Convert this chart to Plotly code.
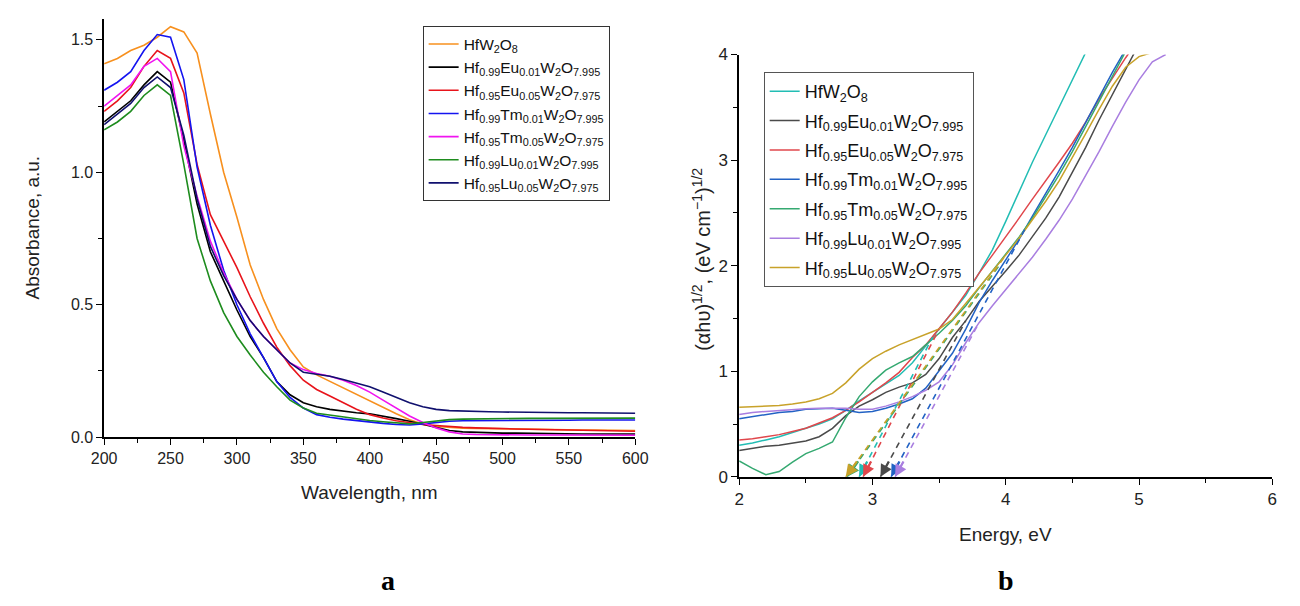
import plotly.graph_objects as go

# ---------------- Panel a: absorbance spectra ----------------
wavelength = [200, 210, 220, 230, 240, 250, 260, 270, 280, 290,
              300, 310, 320, 330, 340, 350, 360, 370, 380, 390,
              400, 410, 420, 430, 440, 450, 460, 470, 480, 490,
              500, 510, 520, 530, 540, 550, 560, 570, 580, 590, 600]

abs_HfW2O8 = [1.41, 1.43, 1.46, 1.48, 1.51, 1.55, 1.53, 1.45, 1.22, 1.00,
              0.83, 0.65, 0.52, 0.41, 0.33, 0.265, 0.235, 0.21, 0.185, 0.16,
              0.135, 0.11, 0.088, 0.066, 0.05, 0.04, 0.036, 0.034, 0.033, 0.032,
              0.031, 0.03, 0.03, 0.029, 0.028, 0.028, 0.027, 0.027, 0.026, 0.025, 0.025]
abs_Eu001 = [1.19, 1.23, 1.27, 1.33, 1.38, 1.34, 1.12, 0.88, 0.70, 0.59,
             0.48, 0.38, 0.30, 0.21, 0.16, 0.13, 0.115, 0.105, 0.098, 0.092,
             0.088, 0.08, 0.07, 0.06, 0.048, 0.038, 0.025, 0.02, 0.018, 0.016,
             0.015, 0.015, 0.014, 0.014, 0.013, 0.013, 0.012, 0.012, 0.012, 0.012, 0.012]
abs_Eu005 = [1.23, 1.27, 1.32, 1.40, 1.46, 1.43, 1.30, 1.03, 0.84, 0.74,
             0.64, 0.53, 0.43, 0.34, 0.27, 0.215, 0.18, 0.155, 0.13, 0.105,
             0.085, 0.072, 0.062, 0.054, 0.048, 0.044, 0.04, 0.037, 0.035, 0.033,
             0.032, 0.031, 0.03, 0.029, 0.028, 0.027, 0.026, 0.025, 0.024, 0.023, 0.022]
abs_Tm001 = [1.31, 1.34, 1.38, 1.46, 1.52, 1.51, 1.35, 1.02, 0.80, 0.63,
             0.50, 0.39, 0.30, 0.21, 0.15, 0.11, 0.085, 0.075, 0.068, 0.062,
             0.058, 0.052, 0.048, 0.046, 0.05, 0.056, 0.06, 0.062, 0.062, 0.063,
             0.063, 0.063, 0.064, 0.064, 0.064, 0.064, 0.065, 0.065, 0.065, 0.065, 0.065]
abs_Tm005 = [1.25, 1.29, 1.33, 1.40, 1.43, 1.38, 1.10, 0.91, 0.74, 0.62,
             0.52, 0.44, 0.38, 0.33, 0.28, 0.255, 0.24, 0.23, 0.215, 0.195,
             0.17, 0.14, 0.11, 0.08, 0.055, 0.035, 0.02, 0.012, 0.01, 0.009,
             0.008, 0.008, 0.008, 0.008, 0.008, 0.008, 0.008, 0.008, 0.008, 0.008, 0.007]
abs_Lu001 = [1.16, 1.19, 1.23, 1.29, 1.33, 1.29, 1.03, 0.75, 0.59, 0.47,
             0.38, 0.31, 0.245, 0.19, 0.14, 0.11, 0.09, 0.083, 0.078, 0.07,
             0.063, 0.058, 0.053, 0.05, 0.055, 0.06, 0.066, 0.068, 0.069, 0.07,
             0.07, 0.07, 0.071, 0.071, 0.071, 0.072, 0.072, 0.072, 0.072, 0.072, 0.072]
abs_Lu005 = [1.18, 1.22, 1.26, 1.32, 1.36, 1.32, 1.14, 0.90, 0.72, 0.61,
             0.52, 0.44, 0.38, 0.33, 0.28, 0.245, 0.237, 0.23, 0.218, 0.205,
             0.19, 0.17, 0.15, 0.13, 0.115, 0.105, 0.1, 0.098, 0.097, 0.096,
             0.095, 0.094, 0.094, 0.093, 0.093, 0.092, 0.092, 0.091, 0.091, 0.09, 0.09]

names = ["HfW<sub>2</sub>O<sub>8</sub>",
         "Hf<sub>0.99</sub>Eu<sub>0.01</sub>W<sub>2</sub>O<sub>7.995</sub>",
         "Hf<sub>0.95</sub>Eu<sub>0.05</sub>W<sub>2</sub>O<sub>7.975</sub>",
         "Hf<sub>0.99</sub>Tm<sub>0.01</sub>W<sub>2</sub>O<sub>7.995</sub>",
         "Hf<sub>0.95</sub>Tm<sub>0.05</sub>W<sub>2</sub>O<sub>7.975</sub>",
         "Hf<sub>0.99</sub>Lu<sub>0.01</sub>W<sub>2</sub>O<sub>7.995</sub>",
         "Hf<sub>0.95</sub>Lu<sub>0.05</sub>W<sub>2</sub>O<sub>7.975</sub>"]
colors_a = ["#F7901E", "#000000", "#E8141B", "#1414F0", "#F014F0", "#1E8C1E", "#10106E"]
series_a = [abs_HfW2O8, abs_Eu001, abs_Eu005, abs_Tm001, abs_Tm005, abs_Lu001, abs_Lu005]

# ---------------- Panel b: Tauc plots ----------------
energy = [2.0, 2.1, 2.2, 2.3, 2.4, 2.5, 2.6, 2.7, 2.8, 2.9,
          3.0, 3.1, 3.2, 3.3, 3.4, 3.5, 3.6, 3.7, 3.8, 3.9,
          4.0, 4.1, 4.2, 4.3, 4.4, 4.5, 4.6, 4.7, 4.8, 4.9,
          5.0, 5.1, 5.2]

tauc_HfW2O8 = [0.30, 0.32, 0.35, 0.38, 0.42, 0.46, 0.50, 0.55, 0.63, 0.72,
               0.80, 0.88, 0.96, 1.08, 1.24, 1.40, 1.55, 1.72, 1.93, 2.15,
               2.42, 2.70, 2.98, 3.24, 3.50, 3.75, 4.02, 4.30, None, None,
               None, None, None]
tauc_Eu001 = [0.25, 0.27, 0.29, 0.30, 0.32, 0.34, 0.38, 0.46, 0.58, 0.67,
              0.73, 0.80, 0.85, 0.89, 0.97, 1.12, 1.32, 1.48, 1.66, 1.80,
              1.95, 2.10, 2.27, 2.45, 2.65, 2.88, 3.12, 3.38, 3.62, 3.87,
              4.10, None, None]
tauc_Eu005 = [0.35, 0.36, 0.38, 0.40, 0.43, 0.46, 0.51, 0.56, 0.63, 0.71,
              0.80, 0.89, 0.99, 1.13, 1.25, 1.40, 1.56, 1.74, 1.93, 2.10,
              2.27, 2.45, 2.63, 2.80, 2.98, 3.16, 3.36, 3.58, 3.78, 3.97,
              4.15, None, None]
tauc_Tm001 = [0.55, 0.57, 0.59, 0.61, 0.62, 0.64, 0.645, 0.65, 0.63, 0.61,
              0.62, 0.65, 0.69, 0.74, 0.84, 1.00, 1.17, 1.40, 1.65, 1.86,
              2.05, 2.25, 2.47, 2.68, 2.90, 3.12, 3.36, 3.60, 3.83, 4.05,
              None, None, None]
tauc_Tm005 = [0.15, 0.08, 0.02, 0.05, 0.14, 0.22, 0.27, 0.33, 0.56, 0.76,
              0.90, 1.01, 1.08, 1.14, 1.25, 1.36, 1.48, 1.62, 1.79, 1.95,
              2.10, 2.27, 2.45, 2.65, 2.86, 3.08, 3.32, 3.56, 3.80, 4.03,
              None, None, None]
tauc_Lu001 = [0.59, 0.61, 0.62, 0.63, 0.64, 0.645, 0.65, 0.65, 0.65, 0.64,
              0.64, 0.67, 0.71, 0.76, 0.82, 0.90, 1.06, 1.27, 1.46, 1.62,
              1.77, 1.92, 2.08, 2.25, 2.43, 2.63, 2.85, 3.08, 3.32, 3.55,
              3.76, 3.93, 4.00]
tauc_Lu005 = [0.66, 0.665, 0.67, 0.675, 0.69, 0.71, 0.74, 0.79, 0.89, 1.02,
              1.12, 1.19, 1.25, 1.30, 1.35, 1.40, 1.49, 1.64, 1.80, 1.95,
              2.10, 2.26, 2.43, 2.61, 2.80, 3.02, 3.25, 3.48, 3.70, 3.88,
              3.98, 4.02, None]

colors_b = ["#22BDB4", "#4A4A4A", "#E0474C", "#2262C4", "#35A971", "#A97EE0", "#C8A22A"]
series_b = [tauc_HfW2O8, tauc_Eu001, tauc_Eu005, tauc_Tm001, tauc_Tm005, tauc_Lu001, tauc_Lu005]

# band-gap extrapolation lines: intercept and upper end of each tangent
tangent_eg = [2.90, 3.06, 2.93, 3.14, 2.81, 3.17, 2.80]
tangent_end_e = [3.45, 3.70, 3.50, 4.15, 3.95, 3.80, 4.00]
tangent_end_v = [1.32, 1.48, 1.40, 2.36, 2.00, 1.46, 2.10]

FONT = "Arial, 'Liberation Sans', sans-serif"
fig = go.Figure()

for i, (nm, col, ys) in enumerate(zip(names, colors_a, series_a)):
    fig.add_trace(go.Scatter(x=wavelength, y=ys, mode="lines", name=nm,
                             line=dict(color=col, width=1.6),
                             xaxis="x", yaxis="y", legend="legend",
                             legendgroup="a%d" % i))

for i, (nm, col, ys) in enumerate(zip(names, colors_b, series_b)):
    fig.add_trace(go.Scatter(x=energy, y=ys, mode="lines", name=nm,
                             line=dict(color=col, width=1.5),
                             xaxis="x2", yaxis="y2", legend="legend2",
                             legendgroup="b%d" % i))

annotations = []
for eg, ee, ev, col in zip(tangent_eg, tangent_end_e, tangent_end_v, colors_b):
    fig.add_trace(go.Scatter(x=[eg, ee], y=[0, ev], mode="lines",
                             line=dict(color=col, width=1.6, dash="6px,5px"),
                             xaxis="x2", yaxis="y2", showlegend=False))
    tail_v = 0.16
    tail_e = eg + tail_v * (ee - eg) / ev
    annotations.append(dict(x=eg, y=0.0, ax=tail_e, ay=tail_v,
                            xref="x2", yref="y2", axref="x2", ayref="y2",
                            text="", showarrow=True, arrowhead=2, arrowsize=1.1,
                            arrowwidth=2.2, arrowcolor=col, standoff=0))

axis_common = dict(showline=True, linecolor="black", linewidth=1.5, showgrid=False,
                   zeroline=False, ticks="outside", ticklen=6, tickwidth=1.3,
                   tickcolor="black", mirror=False,
                   tickfont=dict(family=FONT, size=16, color="#222"))

fig.update_layout(
    width=1300, height=606,
    margin=dict(l=0, r=0, t=0, b=0),
    paper_bgcolor="white", plot_bgcolor="white",
    font=dict(family=FONT, color="#222"),
    xaxis=dict(domain=[93/1300, 635/1300], range=[200, 600], dtick=50, anchor="y",
               minor=dict(dtick=25, ticks="outside", ticklen=4, tickcolor="black", tickwidth=1.2),
               **axis_common),
    yaxis=dict(domain=[1-442/606, 1-10/606], range=[0, 1.58], dtick=0.5, tickformat=".1f",
               anchor="x",
               minor=dict(dtick=0.25, ticks="outside", ticklen=4, tickcolor="black", tickwidth=1.2),
               **axis_common),
    xaxis2=dict(domain=[741/1300, 1285/1300], range=[2, 6], dtick=1, anchor="y2",
                minor=dict(dtick=0.5, ticks="outside", ticklen=4, tickcolor="black", tickwidth=1.2),
                **{**axis_common, "tickfont": dict(family=FONT, size=17, color="#222")}),
    yaxis2=dict(domain=[1-483/606, 1-47/606], range=[0, 4], dtick=1, anchor="x2",
                minor=dict(dtick=0.5, ticks="outside", ticklen=4, tickcolor="black", tickwidth=1.2),
                **{**axis_common, "tickfont": dict(family=FONT, size=17, color="#222")}),
    legend=dict(x=418/1300, y=1-18/606, xanchor="left", yanchor="top",
                bgcolor="white", bordercolor="#333", borderwidth=1,
                font=dict(family=FONT, size=15.5, color="#111"),
                tracegroupgap=0, itemwidth=30),
    legend2=dict(x=766/1300, y=1-65/606, xanchor="left", yanchor="top",
                 bgcolor="white", bordercolor="#555", borderwidth=1,
                 font=dict(family=FONT, size=18, color="#111"),
                 tracegroupgap=3, itemwidth=30),
    showlegend=True,
)

annotations += [
    dict(text="Absorbance, a.u.", x=20/1300, y=1-226/606, xref="paper", yref="paper",
         showarrow=False, textangle=-90, font=dict(family=FONT, size=19, color="#222"),
         xanchor="center", yanchor="middle"),
    dict(text="Wavelength, nm", x=364/1300, y=1-499/606, xref="paper", yref="paper",
         showarrow=False, font=dict(family=FONT, size=19, color="#222"),
         xanchor="center", yanchor="middle"),
    dict(text="(αhυ)<sup>1/2</sup>, (eV cm<sup>−1</sup>)<sup>1/2</sup>",
         x=703/1300, y=1-258/606, xref="paper", yref="paper",
         showarrow=False, textangle=-90, font=dict(family=FONT, size=20, color="#222"),
         xanchor="center", yanchor="middle"),
    dict(text="Energy, eV", x=1013/1300, y=1-542/606, xref="paper", yref="paper",
         showarrow=False, font=dict(family=FONT, size=19, color="#222"),
         xanchor="center", yanchor="middle"),
    dict(text="<b>a</b>", x=383/1300, y=1-590/606, xref="paper", yref="paper",
         showarrow=False, font=dict(family="'Liberation Serif', 'Times New Roman', serif", size=28, color="black"),
         xanchor="center", yanchor="middle"),
    dict(text="<b>b</b>", x=1013/1300, y=1-590/606, xref="paper", yref="paper",
         showarrow=False, font=dict(family="'Liberation Serif', 'Times New Roman', serif", size=28, color="black"),
         xanchor="center", yanchor="middle"),
]
fig.update_layout(annotations=annotations)

fig.write_html("out.html")
